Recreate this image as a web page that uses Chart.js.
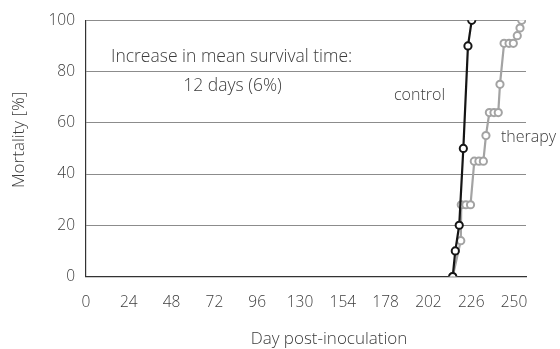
<!DOCTYPE html>
<html>
<head>
<meta charset="utf-8">
<script src="https://cdn.jsdelivr.net/npm/chart.js@4/dist/chart.umd.min.js"></script>
<style>
html,body{margin:0;padding:0;background:#fff;}
#wrap{width:560px;height:349px;position:relative;}
</style>
</head>
<body>
<div id="wrap"><canvas id="c" width="560" height="349"></canvas></div>
<script>
// Tick labels as printed on the x axis (evenly spaced)
const xTickPositions = [0, 25, 50, 75, 100, 125, 150, 175, 200, 225, 250];
const xTickLabels = ['0', '24', '48', '72', '96', '130', '154', '178', '202', '226', '250'];
const yTickValues = [0, 20, 40, 60, 80, 100];

// Control series
const controlDays = [214.2, 215.7, 218.0, 220.4, 223.1, 225.3];
const controlMortality = [0, 10, 20, 50, 90, 100];

// Therapy series
const therapyDays = [214.2, 218.9, 219.2, 221.9, 224.6, 226.8, 229.5, 232.1, 233.6, 235.6, 238.3, 240.8, 241.8, 244.2, 247.1, 249.6, 251.9, 253.5, 254.5];
const therapyMortality = [0, 14, 28, 28, 28, 45, 45, 45, 55, 64, 64, 64, 75, 91, 91, 91, 94, 97, 100];

const FONT = "'Open Sans', 'DejaVu Sans', sans-serif";
const TEXT = '#3c3c3c';
const FS = 15.5;

function pts(xs, ys) { return xs.map((x, i) => ({x: x, y: ys[i]})); }

const annot = {
  id: 'annot',
  afterDraw(chart) {
    const ctx = chart.ctx;
    ctx.save();
    ctx.fillStyle = TEXT;
    ctx.textBaseline = 'middle';
    ctx.font = '300 17.5px ' + FONT;
    ctx.textAlign = 'left';
    ctx.fillText('Increase in mean survival time:', 111, 57);
    ctx.textAlign = 'center';
    ctx.fillText('12 days (6%)', 232.5, 86);
    ctx.font = '300 16px ' + FONT;
    ctx.textAlign = 'left';
    ctx.fillText('control', 394, 95);
    ctx.fillText('therapy', 501, 137);
    // axis titles
    ctx.font = '300 17px ' + FONT;
    ctx.textAlign = 'center';
    ctx.fillText('Day post-inoculation', 329, 339);
    ctx.translate(19, 140);
    ctx.rotate(-Math.PI / 2);
    ctx.fillText('Mortality [%]', 0, 0);
    ctx.restore();
  }
};

new Chart(document.getElementById('c'), {
  type: 'line',
  data: {
    datasets: [
      {
        label: 'control',
        data: pts(controlDays, controlMortality),
        borderColor: '#151515',
        backgroundColor: '#ffffff',
        borderWidth: 2.2,
        pointRadius: 3.6,
        pointBorderWidth: 2,
        pointBorderColor: '#151515',
        pointBackgroundColor: '#ffffff',
        tension: 0
      },
      {
        label: 'therapy',
        data: pts(therapyDays, therapyMortality),
        borderColor: '#a3a3a3',
        backgroundColor: '#ffffff',
        borderWidth: 2.2,
        pointRadius: 3.6,
        pointBorderWidth: 2,
        pointBorderColor: '#a3a3a3',
        pointBackgroundColor: '#ffffff',
        tension: 0
      }
    ]
  },
  options: {
    responsive: false,
    animation: false,
    layout: { padding: { top: 20, right: 34, left: 0, bottom: 0 } },
    plugins: { legend: { display: false }, tooltip: { enabled: false } },
    scales: {
      x: {
        type: 'linear',
        min: 0,
        max: 257,
        afterBuildTicks(scale) { scale.ticks = xTickPositions.map(v => ({value: v})); },
        afterFit(scale) { scale.height = 72.5; },
        grid: { display: false, drawTicks: false },
        border: { display: true, color: '#333333', width: 1.2 },
        ticks: {
          padding: 17,
          color: TEXT,
          font: { family: FONT, size: FS, weight: '300' },
          maxRotation: 0,
          autoSkip: false,
          callback: (v, i) => xTickLabels[i]
        }
      },
      y: {
        type: 'linear',
        min: 0,
        max: 100,
        afterBuildTicks(scale) { scale.ticks = yTickValues.map(v => ({value: v})); },
        afterFit(scale) { scale.width = 86; },
        grid: { color: '#8c8c8c', lineWidth: 1, drawTicks: false },
        border: { display: true, color: '#333333', width: 1.2 },
        ticks: {
          padding: 11,
          color: TEXT,
          font: { family: FONT, size: FS, weight: '300' }
        }
      }
    }
  },
  plugins: [annot]
});
</script>
</body>
</html>
